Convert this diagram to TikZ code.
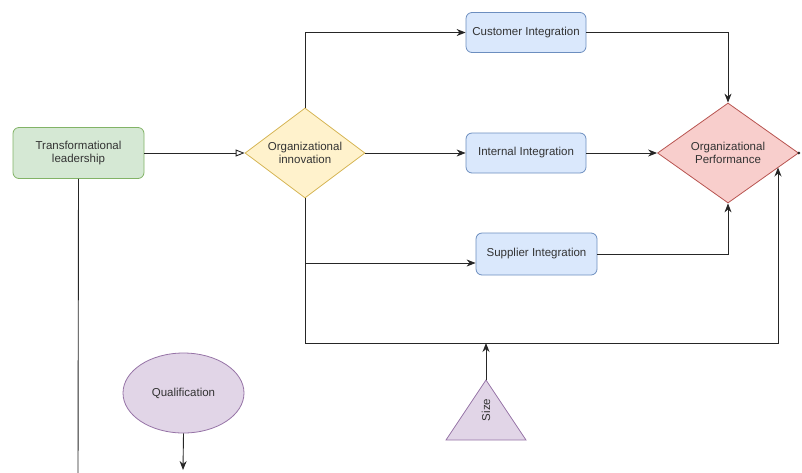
\documentclass[tikz,border=0pt]{standalone}
\usepackage{fontspec}
\setmainfont{Liberation Sans}
\usetikzlibrary{shapes.geometric,arrows.meta}
\definecolor{gfill}{HTML}{D5E8D4}\definecolor{gdraw}{HTML}{82B366}
\definecolor{yfill}{HTML}{FFF2CC}\definecolor{ydraw}{HTML}{D6B656}
\definecolor{bfill}{HTML}{DAE8FC}\definecolor{bdraw}{HTML}{6C8EBF}
\definecolor{rfill}{HTML}{F8CECC}\definecolor{rdraw}{HTML}{B85450}
\definecolor{pfill}{HTML}{E1D5E7}\definecolor{pdraw}{HTML}{9673A6}
\definecolor{txt}{HTML}{333333}
\begin{document}
\begin{tikzpicture}[x=1pt,y=-1pt,
  every node/.style={font=\fontsize{11.5}{13}\selectfont, text=txt, align=center, inner sep=0pt, line width=0.8pt},
  gbox/.style={draw=gdraw, fill=gfill, rounded corners=6pt, minimum width=131pt, minimum height=51pt},
  bbox/.style={draw=bdraw, fill=bfill, rounded corners=6pt, minimum width=120pt, minimum height=40pt},
  ydia/.style={diamond, draw=ydraw, fill=yfill, minimum width=120pt, minimum height=90pt, aspect=1.333},
  rdia/.style={diamond, draw=rdraw, fill=rfill, minimum width=141pt, minimum height=100pt, aspect=1.41},
  pell/.style={ellipse, draw=pdraw, fill=pfill, minimum width=121pt, minimum height=80pt},
  ptri/.style={draw=pdraw, fill=pfill, line width=0.8pt},
  conn/.style={draw=black!85, line width=0.9pt, -{Stealth[length=9pt,width=7pt]}},
  plain/.style={draw=black!85, line width=0.9pt}
]
\useasboundingbox (0,0) rectangle (802,472);

\node[gbox] (tl) at (78.5,153) {Transformational\\leadership};
\node[ydia] (oi) at (305,153) {Organizational\\innovation};
\node[bbox] (ci) at (526,32.5) {Customer Integration};
\node[bbox] (ii) at (526,153) {Internal Integration};
\node[bbox, minimum width=121pt, minimum height=42pt] (si) at (536.5,254) {Supplier Integration};
\node[rdia] (op) at (728,153) {Organizational\\Performance};
\node[pell] (q) at (183.5,393) {Qualification};

% Size triangle
\draw[ptri] (486,380) coordinate (sizetop) -- (526,440) -- (446,440) -- cycle;
\node[rotate=90] (size) at (486,410) {Size};

\coordinate (tlend) at (78,480);
\coordinate (qend) at (183,470);
\coordinate (bl) at (305,343);
\coordinate (br) at (778,343);
\coordinate (opin) at (778,167.5);
\coordinate (sizein) at (486,343);
\coordinate (sib) at (305,263);

% connectors
\draw[plain, -{Triangle[open,length=9pt,width=7pt]}] (tl.east) -- (oi.west);
\draw[plain] (tl.south) -- (tlend);
\draw[conn] (oi.north) |- (ci.west);
\draw[conn] (oi.east) -- (ii.west);
\draw[conn] (ci.east) -| (op.north);
\draw[conn] (ii.east) -- (op.west);
\draw[conn] (si.east) -| (op.south);
\draw[plain] (oi.south) -- (bl);
\draw[conn] (sib) -- (si.west |- sib);
\draw[conn] (bl) -- (br) -- (opin);
\draw[conn] (sizetop) -- (sizein);
\draw[conn] (q.south) -- (qend);
\fill[black!85] (op.east) circle (1.5pt);
\end{tikzpicture}
\end{document}
